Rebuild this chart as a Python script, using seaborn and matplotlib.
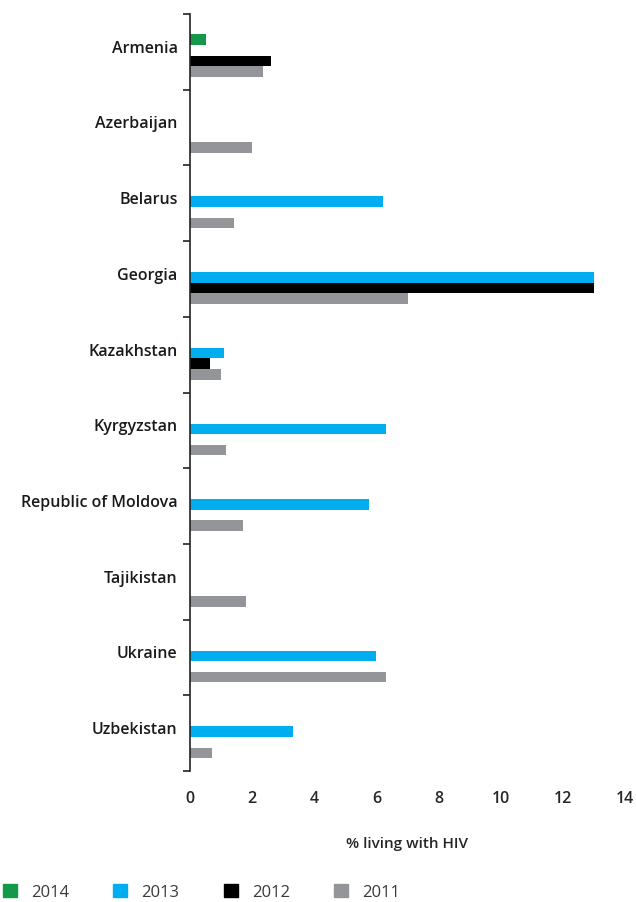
import matplotlib
matplotlib.use("Agg")
import matplotlib.pyplot as plt
import matplotlib.patches as mpatches
import numpy as np
import pandas as pd
import seaborn as sns

# data
countries = ["Armenia", "Azerbaijan", "Belarus", "Georgia", "Kazakhstan",
             "Kyrgyzstan", "Republic of Moldova", "Tajikistan", "Ukraine", "Uzbekistan"]
years = ["2014", "2013", "2012", "2011"]
v2014 = [0.5, None, None, None, None, None, None, None, None, None]
v2013 = [None, None, 6.2, 13.0, 1.1, 6.3, 5.75, None, 6.0, 3.3]
v2012 = [2.6, None, None, 13.0, 0.65, None, None, None, None, None]
v2011 = [2.35, 2.0, 1.4, 7.0, 1.0, 1.15, 1.7, 1.8, 6.3, 0.7]
colors = ["#14994a", "#00aeef", "#000000", "#939598"]
xticks = [0, 2, 4, 6, 8, 10, 12, 14]

rows = []
for yr, vals in zip(years, [v2014, v2013, v2012, v2011]):
    for c, v in zip(countries, vals):
        if v is not None:
            rows.append({"country": c, "year": yr, "value": v})
df = pd.DataFrame(rows)

sns.set_style("white")
plt.rcParams["font.family"] = ["Open Sans", "DejaVu Sans"]

fig = plt.figure(figsize=(6.36, 9.03), dpi=100)
ax = fig.add_axes([190 / 636, 1 - 772 / 903, 435 / 636, 757 / 903])

sns.barplot(data=df, y="country", x="value", hue="year", order=countries,
            hue_order=years, palette=colors, orient="h", width=0.56,
            errorbar=None, linewidth=0, saturation=1, ax=ax, legend=False)

ax.set_xlim(0, 14)
ax.set_ylim(9.45, -0.55)
ax.set_xticks(xticks)
ax.set_xticklabels([str(t) for t in xticks], fontsize=11.5, fontweight="semibold")
ax.tick_params(axis="x", length=0, pad=14)

# group boundary tick marks, labels via minor ticks
n = len(countries)
ax.set_yticks(np.arange(n + 1) - 0.55)
ax.set_yticklabels([])
ax.tick_params(axis="y", which="major", length=5, width=1.2, color="#222222", left=True)
ax.set_yticks(np.arange(n) - 0.13, minor=True)
ax.set_yticklabels(countries, minor=True, fontsize=11.5, fontweight="semibold", color="#1a1a1a")
ax.tick_params(axis="y", which="minor", length=0, pad=9)

for s in ["top", "right", "bottom"]:
    ax.spines[s].set_visible(False)
ax.spines["left"].set_color("#222222")
ax.spines["left"].set_linewidth(1.2)

ax.set_ylabel("")
ax.set_xlabel("% living with HIV", fontsize=11, fontweight="semibold", labelpad=21)

handles = [mpatches.Patch(color=c, label=y) for c, y in zip(colors, years)]
leg = fig.legend(handles=handles, loc="center left", bbox_to_anchor=(0.004, 1 - 893 / 903),
                 ncol=4, frameon=False, fontsize=12, handlelength=0.85, handleheight=0.85,
                 handletextpad=0.85, columnspacing=2.65, borderaxespad=0, borderpad=0)
for t in leg.get_texts():
    t.set_color("#3a3a3a")
    t.set_fontweight("normal")

fig.savefig("out.png", dpi=100)
